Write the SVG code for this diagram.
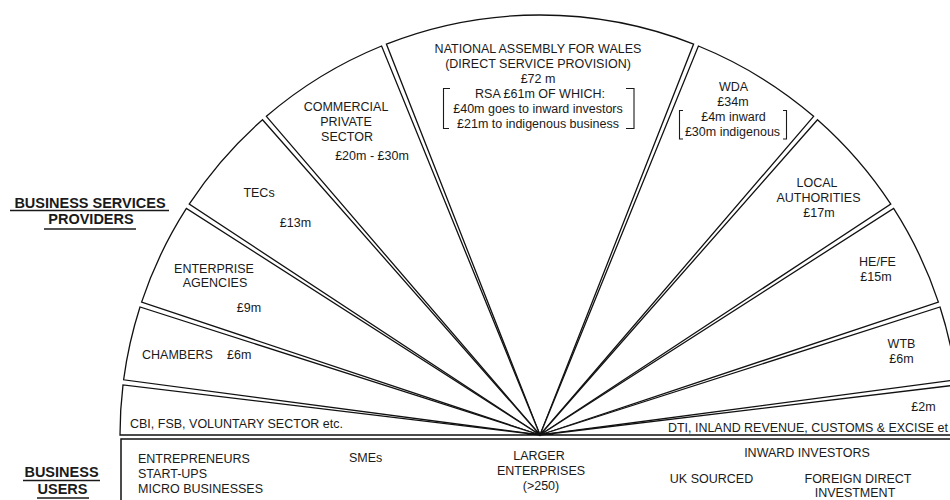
<svg xmlns="http://www.w3.org/2000/svg" width="950" height="500" viewBox="0 0 950 500">
<style>
.w{fill:#fff;stroke:#111;stroke-width:1.3;stroke-linejoin:miter}
.t{font-family:"Liberation Sans",Arial,sans-serif;font-size:12.5px;fill:#1a1a1a;text-anchor:middle}
.s{text-anchor:start}
.h{font-family:"Liberation Sans",Arial,sans-serif;font-size:14.5px;font-weight:bold;fill:#1a1a1a;text-anchor:middle}
.u{stroke:#1a1a1a;stroke-width:1.3;fill:none}
.br{stroke:#1a1a1a;stroke-width:1.1;fill:none}
.ln{stroke:#111;stroke-width:1.5;fill:none}
</style>
<rect width="950" height="500" fill="#fff"/>

<g id="heading-providers">
<text class="h" x="90" y="208">BUSINESS SERVICES</text>
<line class="u" x1="10" y1="210.5" x2="169" y2="210.5"/>
<text class="h" x="91" y="224">PROVIDERS</text>
<line class="u" x1="44" y1="229" x2="136" y2="229"/>
</g>

<g id="heading-users">
<text class="h" x="61.5" y="477">BUSINESS</text>
<line class="u" x1="23" y1="480.5" x2="100" y2="480.5"/>
<text class="h" x="62.5" y="494">USERS</text>
<line class="u" x1="37" y1="498" x2="89" y2="498"/>
</g>

<g id="naw">
<path class="w" d="M540,435 L693.6,44.1 A420,420 0 0 0 386.4,44.1 Z"/>
<text class="t" x="538" y="53">NATIONAL ASSEMBLY FOR WALES</text>
<text class="t" x="538" y="68">(DIRECT SERVICE PROVISION)</text>
<text class="t" x="538" y="83">£72 m</text>
<text class="t" x="540" y="98">RSA £61m OF WHICH:</text>
<text class="t" x="538" y="113">£40m goes to inward investors</text>
<text class="t" x="538" y="128">£21m to indigenous business</text>
<path class="br" d="M450,88.5 H443.5 V128.5 H449"/>
<path class="br" d="M626,88.5 H634 V128.5 H626"/>
</g>

<g id="wda">
<path class="w" d="M540,435 L813.6,116.3 A420,420 0 0 0 698.4,46 Z"/>
<text class="t" x="733.5" y="91">WDA</text>
<text class="t" x="733" y="106">£34m</text>
<text class="t" x="733.5" y="121">£4m inward</text>
<text class="t" x="732.5" y="136">£30m indigenous</text>
<path class="br" d="M683,110.5 H679.5 V139 H683"/>
<path class="br" d="M783,110.5 H786.5 V139 H783"/>
</g>

<g id="local-authorities">
<path class="w" d="M540,435 L890.8,204.1 A420,420 0 0 0 817.5,119.7 Z"/>
<text class="t" x="817" y="187">LOCAL</text>
<text class="t" x="818.5" y="202">AUTHORITIES</text>
<text class="t" x="819" y="217">£17m</text>
</g>

<g id="he-fe">
<path class="w" d="M540,435 L938.4,302.1 A420,420 0 0 0 893.6,208.4 Z"/>
<text class="t" x="877.5" y="266">HE/FE</text>
<text class="t" x="876" y="281">£15m</text>
</g>

<g id="wtb">
<path class="w" d="M540,435 L956.4,379.8 A420,420 0 0 0 940,307 Z"/>
<text class="t" x="901.5" y="348">WTB</text>
<text class="t" x="901.5" y="363">£6m</text>
</g>

<g id="dti">
<path class="w" d="M540,435 L960,435 A420,420 0 0 0 957,384.9 Z"/>
<text class="t" x="923.5" y="411">£2m</text>
<text class="t s" x="668" y="432" textLength="280" lengthAdjust="spacingAndGlyphs">DTI, INLAND REVENUE, CUSTOMS &amp; EXCISE et</text>
</g>

<g id="commercial">
<path class="w" d="M540,435 L381.6,46 A420,420 0 0 0 266.4,116.3 Z"/>
<text class="t" x="346" y="111">COMMERCIAL</text>
<text class="t" x="346" y="126">PRIVATE</text>
<text class="t" x="347" y="141">SECTOR</text>
<text class="t" x="372" y="160">£20m - £30m</text>
</g>

<g id="tecs">
<path class="w" d="M540,435 L262.5,119.7 A420,420 0 0 0 189.2,204.1 Z"/>
<text class="t" x="259" y="197">TECs</text>
<text class="t" x="295.5" y="227">£13m</text>
</g>

<g id="enterprise-agencies">
<path class="w" d="M540,435 L186.4,208.4 A420,420 0 0 0 141.6,302.1 Z"/>
<text class="t" x="214" y="273">ENTERPRISE</text>
<text class="t" x="215" y="287">AGENCIES</text>
<text class="t" x="249" y="312">£9m</text>
</g>

<g id="chambers">
<path class="w" d="M540,435 L140,307 A420,420 0 0 0 123.6,379.8 Z"/>
<text class="t s" x="142" y="359">CHAMBERS</text>
<text class="t s" x="227" y="359">£6m</text>
</g>

<g id="cbi">
<path class="w" d="M540,435 L123,384.9 A420,420 0 0 0 120,435 Z"/>
<text class="t s" x="130" y="428">CBI, FSB, VOLUNTARY SECTOR etc.</text>
</g>

<g id="business-users">
<path class="ln" d="M121,501 V439 H951"/>
<text class="t s" x="138" y="463">ENTREPRENEURS</text>
<text class="t s" x="138" y="478">START-UPS</text>
<text class="t s" x="138" y="493">MICRO BUSINESSES</text>
<text class="t s" x="349" y="462">SMEs</text>
<text class="t" x="539" y="460">LARGER</text>
<text class="t" x="541" y="475">ENTERPRISES</text>
<text class="t" x="541" y="490">(&gt;250)</text>
<text class="t" x="807" y="457">INWARD INVESTORS</text>
<text class="t" x="711.5" y="483">UK SOURCED</text>
<text class="t" x="858" y="483">FOREIGN DIRECT</text>
<text class="t" x="855" y="497">INVESTMENT</text>
</g>
</svg>
